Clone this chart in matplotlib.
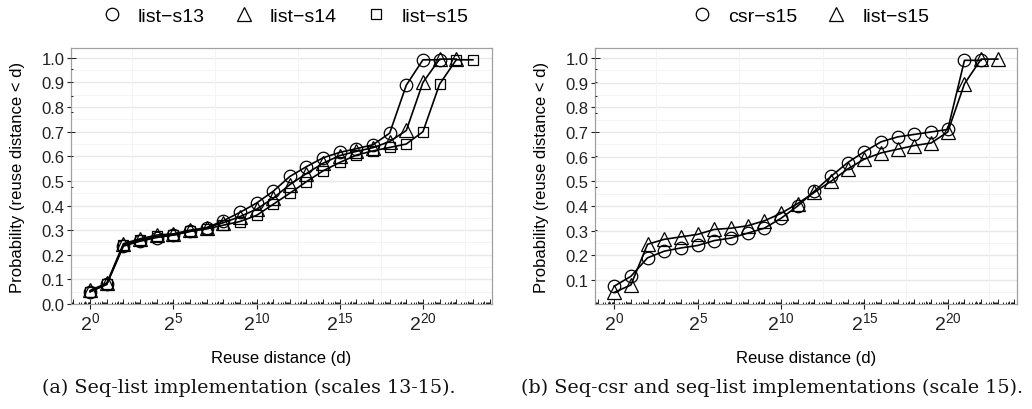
import numpy as np
import matplotlib
matplotlib.use("Agg")
import matplotlib.pyplot as plt
import matplotlib.transforms as mtransforms
from matplotlib.lines import Line2D
from matplotlib.collections import LineCollection

plt.rcParams["font.family"] = ["Liberation Sans", "DejaVu Sans"]
plt.rcParams["mathtext.fontset"] = "custom"
plt.rcParams["mathtext.rm"] = "Liberation Sans"
plt.rcParams["mathtext.it"] = "Liberation Sans:italic"

# reuse distance exponents (d = 2^k) and cumulative probabilities
exp_s13 = list(range(0, 22))
exp_s14 = list(range(0, 23))
exp_s15 = list(range(0, 24))
exp_csr15 = list(range(0, 23))

list_s13 = [0.05, 0.08, 0.235, 0.255, 0.27, 0.28, 0.295, 0.31, 0.338, 0.372, 0.41, 0.458,
            0.518, 0.558, 0.594, 0.616, 0.631, 0.647, 0.694, 0.889, 0.992, 0.992]
list_s14 = [0.055, 0.085, 0.245, 0.265, 0.28, 0.285, 0.30, 0.31, 0.33, 0.355, 0.385, 0.43,
            0.485, 0.53, 0.572, 0.603, 0.62, 0.635, 0.66, 0.705, 0.90, 0.995, 0.995]
list_s15 = [0.05, 0.08, 0.24, 0.26, 0.275, 0.28, 0.295, 0.305, 0.32, 0.335, 0.36, 0.405,
            0.45, 0.497, 0.541, 0.575, 0.605, 0.622, 0.636, 0.65, 0.70, 0.893, 0.992, 0.992]

csr_s15_b = [0.075, 0.115, 0.19, 0.217, 0.23, 0.24, 0.26, 0.27, 0.29, 0.31, 0.35, 0.40,
             0.46, 0.52, 0.576, 0.62, 0.66, 0.68, 0.69, 0.70, 0.71, 0.99, 0.99]
list_s15_b = [0.05, 0.08, 0.245, 0.265, 0.275, 0.285, 0.305, 0.31, 0.32, 0.34, 0.37, 0.41,
              0.455, 0.50, 0.55, 0.59, 0.615, 0.63, 0.645, 0.655, 0.70, 0.895, 0.995, 0.995]

major_exp = [0, 5, 10, 15, 20]
xlim_exp = (-1.15, 24.15)

W, H = 1032, 410
fig = plt.figure(figsize=(W / 100, H / 100), dpi=100)


def panel(rect, ylim, yticks):
    ax = fig.add_axes([rect[0] / W, 1 - (rect[1] + rect[3]) / H, rect[2] / W, rect[3] / H])
    ax.set_xscale("log", base=2)
    ax.set_xlim(2.0 ** xlim_exp[0], 2.0 ** xlim_exp[1])
    ax.set_ylim(*ylim)
    ax.set_xticks([2.0 ** k for k in major_exp])
    ax.xaxis.set_minor_locator(matplotlib.ticker.NullLocator())
    ax.set_yticks(yticks)
    ax.set_yticklabels(["%.1f" % v for v in yticks])
    ax.tick_params(axis="x", labelsize=14, length=3.5, width=0.8, pad=1.5, colors="#222222")
    ax.tick_params(axis="y", labelsize=12, length=3, width=0.8, pad=1.5, colors="#222222")
    for s in ax.spines.values():
        s.set_color("#a0a0a0")
        s.set_linewidth(0.9)
    # grid
    for v in np.arange(0.0, 1.01, 0.1):
        ax.axhline(v, color="#e8e8e8", lw=1.0, zorder=0)
    for v in np.arange(0.05, 1.04, 0.1):
        ax.axhline(v, color="#f3f3f3", lw=0.6, zorder=0)
    for k in [2.5, 7.5, 12.5, 17.5, 22.5]:
        ax.axvline(2.0 ** k, color="#f3f3f3", lw=0.6, zorder=0)

    # log ticks along bottom and left inside the panel
    lens = {1: 5.0, 5: 3.5}
    segs_b = []
    for k in range(-2, 26):
        for m in range(1, 10):
            e = k + np.log10(m)
            if xlim_exp[0] <= e <= xlim_exp[1]:
                L = lens.get(m, 2.0) / rect[3]
                segs_b.append([(2.0 ** e, 0), (2.0 ** e, L)])
    tb = mtransforms.blended_transform_factory(ax.transData, ax.transAxes)
    ax.add_collection(LineCollection(segs_b, colors="black", linewidths=0.6,
                                     transform=tb, zorder=5))
    segs_l = []
    for k in range(-1, 2):
        for m in range(1, 10):
            v = k + np.log10(m)
            if ylim[0] <= v <= ylim[1]:
                L = lens.get(m, 2.0) / rect[2]
                segs_l.append([(0, v), (L, v)])
    tl = mtransforms.blended_transform_factory(ax.transAxes, ax.transData)
    ax.add_collection(LineCollection(segs_l, colors="black", linewidths=0.6,
                                     transform=tl, zorder=5))

    ax.set_xlabel("Reuse distance (d)", fontsize=12, labelpad=12)
    ax.set_ylabel("Probability (reuse distance < d)", fontsize=12, labelpad=12)
    return ax


def series(ax, exps, vals, marker, ms):
    ax.plot([2.0 ** k for k in exps], vals, color="black", lw=1.2, marker=marker,
            ms=ms, mfc="none", mec="black", mew=0.9, zorder=3)


def legend(ax, entries, xc):
    handles = [Line2D([], [], ls="none", marker=m, ms=ms, mfc="none", mec="black", mew=0.9,
                      label=lab) for m, ms, lab in entries]
    ax.legend(handles=handles, loc="center", bbox_to_anchor=(xc, 1.125), ncol=len(handles),
              frameon=False, fontsize=14, handlelength=1.0, handletextpad=0.84,
              columnspacing=1.5, borderaxespad=0)


ax1 = panel((71, 49, 421, 256), (0.0, 1.04), np.round(np.arange(0.0, 1.01, 0.1), 1))
series(ax1, exp_s13, list_s13, "o", 9)
series(ax1, exp_s14, list_s14, "^", 9.5)
series(ax1, exp_s15, list_s15, "s", 7.5)
legend(ax1, [("o", 9, "list\u2212s13"), ("^", 9.5, "list\u2212s14"), ("s", 7.5, "list\u2212s15")], 0.51)

ax2 = panel((595, 49, 422, 256), (0.003, 1.04), np.round(np.arange(0.1, 1.01, 0.1), 1))
series(ax2, exp_csr15, csr_s15_b, "o", 9)
series(ax2, exp_s15, list_s15_b, "^", 9.5)
legend(ax2, [("o", 9, "csr\u2212s15"), ("^", 9.5, "list\u2212s15")], 0.512)

cap = dict(ha="center", va="center", fontsize=13.8, family="DejaVu Serif", color="#111111")
fig.text(249 / W, 1 - 388 / H, "(a) Seq-list implementation (scales 13-15).", **cap)
fig.text(772 / W, 1 - 388 / H, "(b) Seq-csr and seq-list implementations (scale 15).", **cap)

fig.savefig("out.png", dpi=100)
